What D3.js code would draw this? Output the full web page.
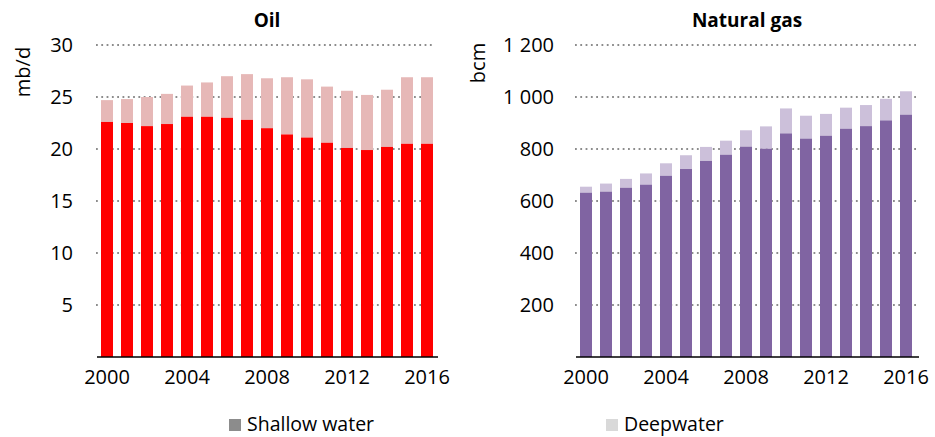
<!DOCTYPE html>
<html>
<head>
<meta charset="utf-8">
<script src="https://cdn.jsdelivr.net/npm/d3@7"></script>
<style>
  body { margin: 0; background: #fff; }
  svg text { font-family: "Open Sans", sans-serif; fill: #000; }
</style>
</head>
<body>
<div id="chart"></div>
<script>
const years = d3.range(2000, 2017);
const tickYears = [2000, 2004, 2008, 2012, 2016];

// oil, mb/d
const oilShallow = [22.6, 22.5, 22.2, 22.4, 23.1, 23.1, 23.0, 22.8, 22.0, 21.4, 21.1, 20.6, 20.1, 19.9, 20.2, 20.5, 20.5];
const oilDeep    = [2.1, 2.3, 2.8, 2.9, 3.0, 3.3, 4.0, 4.4, 4.8, 5.5, 5.6, 5.4, 5.5, 5.3, 5.5, 6.4, 6.4];
const oilTicks = [5, 10, 15, 20, 25, 30];

// natural gas, bcm
const gasShallow = [632, 636, 651, 663, 697, 723, 754, 778, 809, 801, 860, 840, 851, 878, 888, 910, 932];
const gasDeep    = [23, 31, 34, 43, 48, 53, 54, 54, 63, 86, 96, 88, 84, 81, 81, 83, 90];
const gasTicks = [200, 400, 600, 800, 1000, 1200];

const legendItems = ["Shallow water", "Deepwater"];
const legendColors = ["#8c8c8c", "#d9d9d9"];

const W = 935, H = 437;
const svg = d3.select("#chart").append("svg").attr("width", W).attr("height", H);

function panel(cfg) {
  let x = d3.scaleBand().domain(years).range([cfg.left, cfg.right]).paddingInner(0.4).paddingOuter(0.2);
  let y = d3.scaleLinear().domain([0, cfg.max]).range([357, 45]);
  let g = svg.append("g");

  // dotted gridlines
  g.selectAll(".grid").data(cfg.ticks).enter().append("line")
    .attr("x1", cfg.gridL).attr("x2", cfg.gridR)
    .attr("y1", d => y(d)).attr("y2", d => y(d))
    .attr("stroke", "#8c8c8c").attr("stroke-width", 2)
    .attr("stroke-dasharray", "1.8,3.5");

  let yAxis = d3.axisLeft(y).tickValues(cfg.ticks).tickSize(0).tickPadding(0).tickFormat(cfg.fmt);
  g.append("g").attr("transform", "translate(" + (cfg.labelX) + ",0)").call(yAxis)
    .call(a => a.select(".domain").remove())
    .selectAll("text").attr("font-size", 20).style("font-family", "Open Sans, sans-serif");

  let stack = years.map((yr, i) => ({yr: yr, s: cfg.shallow[i], d: cfg.deep[i]}));
  g.selectAll(".deep").data(stack).enter().append("rect")
    .attr("x", d => x(d.yr)).attr("width", x.bandwidth())
    .attr("y", d => y(d.s + d.d)).attr("height", d => y(d.s) - y(d.s + d.d))
    .attr("fill", cfg.deepColor);
  g.selectAll(".shallow").data(stack).enter().append("rect")
    .attr("x", d => x(d.yr)).attr("width", x.bandwidth())
    .attr("y", d => y(d.s)).attr("height", d => y(0) - y(d.s))
    .attr("fill", cfg.shallowColor);

  let xAxis = d3.axisBottom(x).tickValues(tickYears).tickSize(0).tickPadding(13);
  g.append("g").attr("transform", "translate(0," + y(0) + ")").call(xAxis)
    .call(a => a.select(".domain").remove())
    .selectAll("text").attr("font-size", 20).style("font-family", "Open Sans, sans-serif");

  g.append("line").attr("x1", cfg.left).attr("x2", cfg.axisR)
    .attr("y1", y(0)).attr("y2", y(0)).attr("stroke", "#000").attr("stroke-width", 1.5);

  g.append("text").attr("x", cfg.titleX).attr("y", 27).attr("text-anchor", "middle")
    .attr("font-size", 19).attr("font-weight", "bold").text(cfg.title);

  g.append("text").attr("transform", "translate(" + cfg.unitX + "," + cfg.unitY + ")rotate(-90)")
    .attr("text-anchor", "middle").attr("font-size", 20).text(cfg.unit);
}

panel({left: 97, right: 437, axisR: 438, gridL: 96, gridR: 435, max: 30, ticks: oilTicks,
       fmt: d3.format("d"), labelX: 73, shallow: oilShallow, deep: oilDeep,
       shallowColor: "#ff0000", deepColor: "#e6b8b7", title: "Oil", titleX: 267,
       unit: "mb/d", unitX: 30, unitY: 72});

panel({left: 576, right: 916, axisR: 919, gridL: 575, gridR: 918, max: 1200, ticks: gasTicks,
       fmt: d => d3.format(",")(d).replace(",", " "), labelX: 554, shallow: gasShallow, deep: gasDeep,
       shallowColor: "#8064a2", deepColor: "#ccc0da", title: "Natural gas", titleX: 747,
       unit: "bcm", unitX: 485, unitY: 63});

// legend
let legX = [229, 606];
let leg = svg.append("g");
legendItems.forEach((name, i) => {
  leg.append("rect").attr("x", legX[i]).attr("y", 419).attr("width", 12).attr("height", 12).attr("fill", legendColors[i]);
  leg.append("text").attr("x", legX[i] + 18).attr("y", 431).attr("font-size", 19.5).text(name);
});
</script>
</body>
</html>
